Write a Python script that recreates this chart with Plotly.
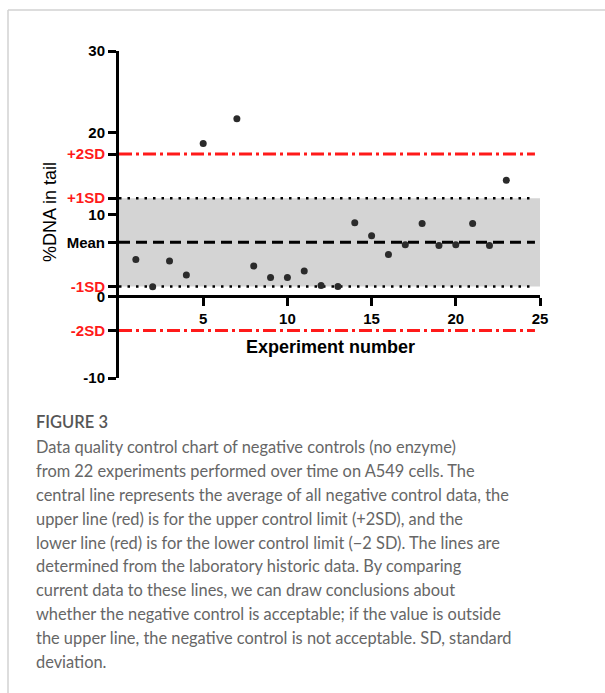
import plotly.graph_objects as go

# ---- data ----
experiment = [1, 2, 3, 4, 5, 7, 8, 9, 10, 11, 12, 13, 14, 15, 16, 17, 18, 19, 20, 21, 22, 23]
pct_dna = [4.5, 1.15, 4.3, 2.6, 18.7, 21.7, 3.7, 2.3, 2.3, 3.1, 1.3, 1.2,
           9.0, 7.4, 5.1, 6.3, 8.9, 6.2, 6.3, 8.9, 6.2, 14.2]
mean_val = 6.6
sd_val = 5.4
x_ticks = [5, 10, 15, 20, 25]
y_num_ticks = [30, 20, 10, 0, -10]

caption_title = "FIGURE 3"
caption_lines = [
    "Data quality control chart of negative controls (no enzyme)",
    "from 22 experiments performed over time on A549 cells. The",
    "central line represents the average of all negative control data, the",
    "upper line (red) is for the upper control limit (+2SD), and the",
    "lower line (red) is for the lower control limit (\u22122 SD). The lines are",
    "determined from the laboratory historic data. By comparing",
    "current data to these lines, we can draw conclusions about",
    "whether the negative control is acceptable; if the value is outside",
    "the upper line, the negative control is not acceptable. SD, standard",
    "deviation.",
]

# ---- layout geometry (pixels) ----
W, H = 605, 693
L, R, T, B = 119, 65, 51, 315
PW, PH = W - L - R, H - T - B


def px(xp):
    return (xp - L) / PW


def py(yp):
    return (H - B - yp) / PH


RED = "#ff1a1a"
BLACK = "#000000"
ymin, ymax = -10, 30

# tick labels
red_lbl = lambda s: f"<span style='color:{RED}'>{s}</span>"
tick_pairs = [(v, str(v)) for v in y_num_ticks] + [
    (mean_val + 2 * sd_val, red_lbl("+2SD")),
    (mean_val + sd_val, red_lbl("+1SD")),
    (mean_val, "Mean"),
    (mean_val - sd_val, red_lbl("-1SD")),
    (mean_val - 2 * sd_val, red_lbl("-2SD")),
]
tick_pairs.sort(key=lambda t: -t[0])

fig = go.Figure()

line_end = 24.7
# control lines
fig.add_trace(go.Scatter(x=[0, line_end], y=[mean_val + 2 * sd_val] * 2, mode="lines",
                         line=dict(color=RED, width=3, dash="13px,4px,3px,4px"), hoverinfo="skip"))
fig.add_trace(go.Scatter(x=[0, line_end], y=[mean_val - 2 * sd_val] * 2, mode="lines",
                         line=dict(color=RED, width=3, dash="13px,4px,3px,4px"), hoverinfo="skip"))
fig.add_trace(go.Scatter(x=[0, line_end], y=[mean_val + sd_val] * 2, mode="lines",
                         line=dict(color=BLACK, width=2.5, dash="2.5px,6px"), hoverinfo="skip"))
fig.add_trace(go.Scatter(x=[0, line_end], y=[mean_val - sd_val] * 2, mode="lines",
                         line=dict(color=BLACK, width=2.5, dash="2.5px,6px"), hoverinfo="skip"))
fig.add_trace(go.Scatter(x=[0, line_end], y=[mean_val] * 2, mode="lines",
                         line=dict(color=BLACK, width=3, dash="11px,6px"), hoverinfo="skip"))
# data points
fig.add_trace(go.Scatter(x=experiment, y=pct_dna, mode="markers",
                         marker=dict(color="#2b2b2b", size=7, line=dict(width=0))))

# shaded +/-1SD band
fig.add_shape(type="rect", xref="x", yref="y", x0=0, x1=25,
              y0=mean_val - sd_val, y1=mean_val + sd_val,
              fillcolor="#d4d4d4", line=dict(width=0), layer="below")

# card border
fig.add_shape(type="line", xref="paper", yref="paper",
              x0=px(8), x1=px(610), y0=py(10), y1=py(10),
              line=dict(color="#d2d2d2", width=1.5))
fig.add_shape(type="line", xref="paper", yref="paper",
              x0=px(8), x1=px(8), y0=py(10), y1=py(700),
              line=dict(color="#d2d2d2", width=1.5))

tick_font = dict(family="Liberation Sans, Arial", size=15, color=BLACK, weight="bold")

fig.update_layout(
    width=W, height=H,
    margin=dict(l=L, r=R, t=T, b=B, autoexpand=False),
    paper_bgcolor="white", plot_bgcolor="white",
    showlegend=False,
    xaxis=dict(range=[0, 25], anchor="free", position=(0 - ymin) / (ymax - ymin),
               showgrid=False, zeroline=False, showline=True, linecolor=BLACK, linewidth=3,
               ticks="outside", ticklen=8, tickwidth=3, tickcolor=BLACK, automargin=False,
               tickvals=x_ticks, ticktext=[str(v) for v in x_ticks], tickfont=tick_font),
    yaxis=dict(range=[ymin, ymax], anchor="x",
               showgrid=False, zeroline=False, showline=True, linecolor=BLACK, linewidth=3,
               ticks="outside", ticklen=8, tickwidth=3, tickcolor=BLACK, automargin=False,
               tickvals=[t[0] for t in tick_pairs], ticktext=[t[1] for t in tick_pairs],
               tickfont=tick_font),
)

# axis titles
fig.add_annotation(xref="paper", yref="paper", x=px(50), y=py(212), text="%DNA in tail",
                   textangle=-90, showarrow=False, xanchor="center", yanchor="middle",
                   font=dict(family="Liberation Sans, Arial", size=18, color=BLACK))
fig.add_annotation(xref="paper", yref="paper", x=px(330), y=py(347), text="Experiment number",
                   showarrow=False, xanchor="center", yanchor="middle",
                   font=dict(family="Liberation Sans, Arial", size=18, color=BLACK, weight="bold"))

# caption
fig.add_annotation(xref="paper", yref="paper", x=px(34), y=py(422), text=caption_title,
                   showarrow=False, xanchor="left", yanchor="middle",
                   font=dict(family="Lato", size=16.5, color="#555555", weight=600))
cap_y = [446, 470, 494, 518, 542, 565.5, 589.5, 613.5, 637.5, 661]
for yy, line in zip(cap_y, caption_lines):
    fig.add_annotation(xref="paper", yref="paper", x=px(34), y=py(yy), text=line,
                       showarrow=False, xanchor="left", yanchor="middle",
                       font=dict(family="Lato", size=16.4, color="#666666"))

fig.write_html("out.html", config={"displayModeBar": False},
               post_script="document.body.style.margin='0';document.body.style.overflow='hidden';")
